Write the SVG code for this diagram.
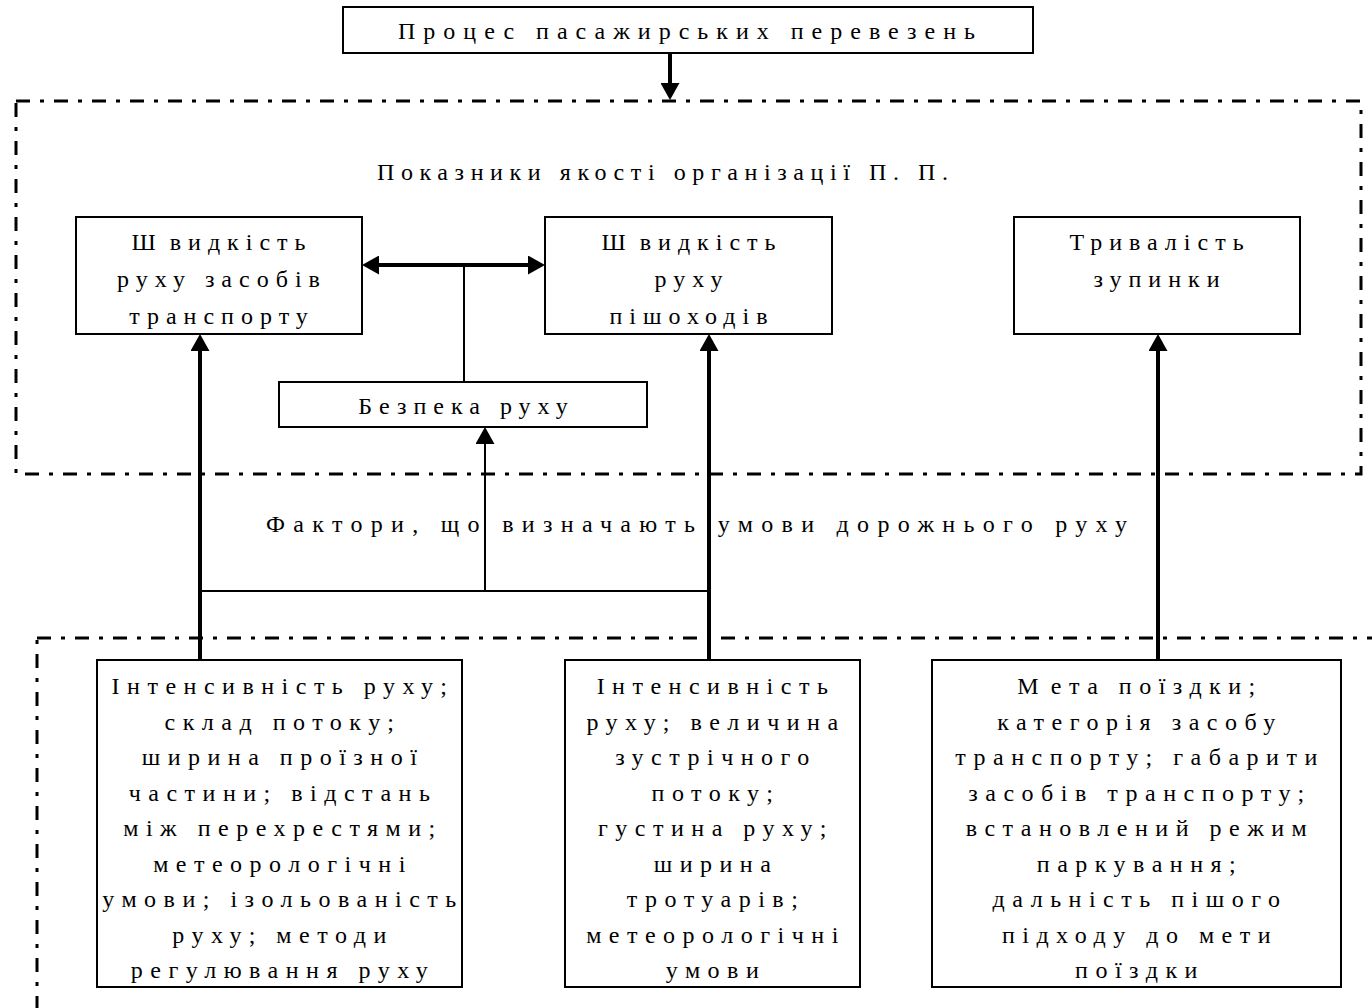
<svg xmlns="http://www.w3.org/2000/svg" width="1372" height="1008" viewBox="0 0 1372 1008">
<style>
.box{fill:#fff;stroke:#000;stroke-width:2}
.frame{fill:none;stroke:#000;stroke-width:3;stroke-dasharray:14 10 4 10}
.thick{stroke:#000;stroke-width:4;fill:none}
.thin{stroke:#000;stroke-width:2;fill:none}
text{font-family:"Liberation Serif","Times New Roman",serif;font-size:24px;fill:#000}
.t{letter-spacing:7px;text-anchor:middle}
.b{letter-spacing:7.5px;text-anchor:middle}
</style>
<defs>
<marker id="ah" markerUnits="userSpaceOnUse" markerWidth="17" markerHeight="19" viewBox="0 0 17 19" refX="8" refY="9.5" orient="auto-start-reverse"><path d="M0,0 L17,9.5 L0,19 z" fill="#000"/></marker>
</defs>
<rect width="1372" height="1008" fill="#fff"/>
<g id="frame-quality">
<rect class="frame" x="16" y="101" width="1345" height="373"/>
<text x="377" y="180" textLength="571" lengthAdjust="spacing">Показники якості організації П. П.</text>
</g>
<g id="frame-factors">
<rect class="frame" x="37" y="638" width="1400" height="420"/>
</g>
<g id="label-factors">
<text x="266" y="532" textLength="861" lengthAdjust="spacing">Фактори, що визначають умови дорожнього руху</text>
</g>
<g id="n-process">
<rect class="box" x="343" y="7" width="690" height="46"/>
<text x="398" y="39" textLength="577" lengthAdjust="spacing">Процес пасажирських перевезень</text>
</g>
<g id="n-speed-vehicles">
<rect class="box" x="76" y="217" width="286" height="117"/>
<text class="t" x="222" y="250">Ш<tspan dx="7">видкість</tspan></text>
<text class="t" x="222" y="287">руху засобів</text>
<text class="t" x="222" y="324">транспорту</text>
</g>
<g id="n-speed-pedestrians">
<rect class="box" x="545" y="217" width="287" height="117"/>
<text class="t" x="692" y="250">Ш<tspan dx="7">видкість</tspan></text>
<text class="t" x="692" y="287">руху</text>
<text class="t" x="692" y="324">пішоходів</text>
</g>
<g id="n-stop-duration">
<rect class="box" x="1014" y="217" width="286" height="117"/>
<text class="t" x="1160" y="250">Тривалість</text>
<text class="t" x="1160" y="287">зупинки</text>
</g>
<g id="n-safety">
<rect class="box" x="279" y="382" width="368" height="45"/>
<text class="t" x="466.5" y="414">Безпека руху</text>
</g>
<g id="n-factors-vehicles">
<rect class="box" x="97" y="660" width="365" height="327"/>
<text class="b" x="283" y="694">Інтенсивність руху;</text>
<text class="b" x="283" y="729.5">склад потоку;</text>
<text class="b" x="283" y="765">ширина проїзної</text>
<text class="b" x="283" y="800.5">частини; відстань</text>
<text class="b" x="283" y="836">між перехрестями;</text>
<text class="b" x="283" y="871.5">метеорологічні</text>
<text class="b" x="283" y="907">умови; ізольованість</text>
<text class="b" x="283" y="942.5">руху; методи</text>
<text class="b" x="283" y="978">регулювання руху</text>
</g>
<g id="n-factors-pedestrians">
<rect class="box" x="565" y="660" width="295" height="327"/>
<text class="b" x="716" y="694">Інтенсивність</text>
<text class="b" x="716" y="729.5">руху; величина</text>
<text class="b" x="716" y="765">зустрічного</text>
<text class="b" x="716" y="800.5">потоку;</text>
<text class="b" x="716" y="836">густина руху;</text>
<text class="b" x="716" y="871.5">ширина</text>
<text class="b" x="716" y="907">тротуарів;</text>
<text class="b" x="716" y="942.5">метеорологічні</text>
<text class="b" x="716" y="978">умови</text>
</g>
<g id="n-factors-stop">
<rect class="box" x="932" y="660" width="409" height="327"/>
<text class="b" x="1140" y="694">М<tspan dx="5">ета поїздки;</tspan></text>
<text class="b" x="1140" y="729.5">категорія засобу</text>
<text class="b" x="1140" y="765">транспорту; габарити</text>
<text class="b" x="1140" y="800.5">засобів транспорту;</text>
<text class="b" x="1140" y="836">встановлений режим</text>
<text class="b" x="1140" y="871.5">паркування;</text>
<text class="b" x="1140" y="907">дальність пішого</text>
<text class="b" x="1140" y="942.5">підходу до мети</text>
<text class="b" x="1140" y="978">поїздки</text>
</g>
<g id="connectors">
<line class="thick" x1="670" y1="53" x2="670" y2="91" marker-end="url(#ah)"/>
<line class="thick" x1="371" y1="265" x2="536" y2="265" marker-start="url(#ah)" marker-end="url(#ah)"/>
<line class="thin" x1="464" y1="265" x2="464" y2="382"/>
<line class="thin" x1="200" y1="591" x2="709" y2="591"/>
<line class="thin" x1="485" y1="591" x2="485" y2="436" stroke-width="2.5" marker-end="url(#ah)"/>
<line class="thick" x1="200" y1="660" x2="200" y2="343" marker-end="url(#ah)"/>
<line class="thick" x1="709" y1="660" x2="709" y2="343" marker-end="url(#ah)"/>
<line class="thick" x1="1158" y1="660" x2="1158" y2="343" marker-end="url(#ah)"/>
</g>
</svg>
